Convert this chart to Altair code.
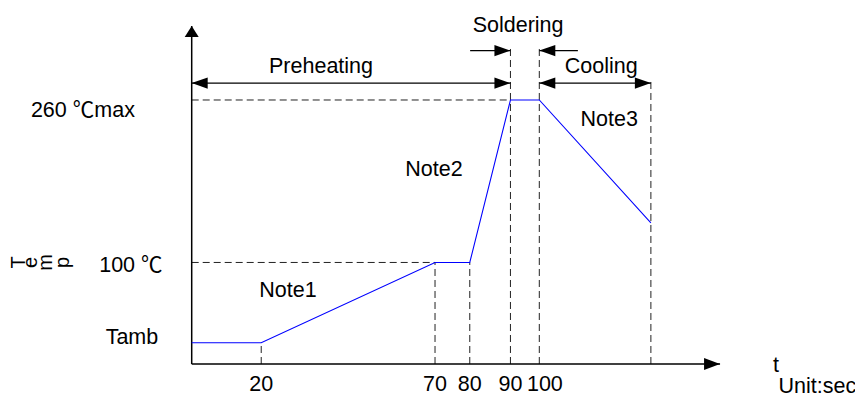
import altair as alt
import pandas as pd

# ---------------- values (seconds, °C) ----------------
# temperature profile (blue line)
profile_t = [0, 20, 70, 80, 91.7, 100, 132.1]
profile_temp = [21, 21, 100, 100, 260, 260, 139]

# time axis labels and where they sit
tick_labels = ["20", "70", "80", "90", "100"]
tick_label_t = [20, 70, 80, 91.7, 101.6]

# dashed guide lines (t -> t2, temp -> temp2)
dash_t = [20, 70, 80, 91.7, 100, 132.1, 0, 0]
dash_t2 = [20, 70, 80, 91.7, 100, 132.1, 91.7, 70]
dash_temp = [0, 0, 0, 0, 0, 0, 260, 100]
dash_temp2 = [21, 100, 100, 314, 312, 281, 260, 100]

# axes (t -> t2, temp -> temp2)
axis_t = [0, 0]
axis_t2 = [152, 0]
axis_temp = [0, 0]
axis_temp2 = [0, 332.9]

# phase arrows (Preheating, Cooling, Soldering in / out)
arrow_t = [0, 100, 80.1, 100]
arrow_t2 = [91.7, 132.1, 91.7, 111.1]
arrow_temp = [276.7, 276.7, 308.7, 308.7]

# arrow heads: position and pointing direction (degrees clockwise)
head_t = [152, 0, 0, 91.7, 100, 132.1, 91.7, 100]
head_temp = [0, 332.9, 276.7, 276.7, 276.7, 276.7, 308.7, 308.7]
head_dir = [0, 270, 180, 0, 180, 0, 0, 180]
head_kind = ["xaxis", "yaxis", "arrow", "arrow", "arrow", "arrow", "arrow", "arrow"]

# annotation texts
ann_labels = ["Preheating", "Soldering", "Cooling", "Note1", "Note2", "Note3",
              "260 ℃max", "100 ℃", "Tamb", "t", "Unit:sec"]
ann_t = [37.2, 93.9, 117.8, 27.7, 69.7, 120.1, -31.3, -17.5, -17.2, 168.1, 180.0]
ann_temp = [286.6, 326.5, 286.6, 66.0, 185.1, 234.4, 243.3, 90.6, 19.7, -7.9, -29.0]
tick_label_temp = -26.6

# vertical axis title, drawn glyph by glyph
title_chars = ["T", "e", "m", "p"]
title_t = [-49.8, -46.1, -41.8, -36.9]
title_temp = 100.0

# ---------------- tables ----------------
profile = pd.DataFrame({"t": profile_t, "temp": profile_temp})
dashes = pd.DataFrame({"t": dash_t, "t2": dash_t2, "temp": dash_temp, "temp2": dash_temp2})
axes = pd.DataFrame({"t": axis_t, "t2": axis_t2, "temp": axis_temp, "temp2": axis_temp2})
arrows = pd.DataFrame({"t": arrow_t, "t2": arrow_t2, "temp": arrow_temp})
shapes = {
    "xaxis": "M0,0L-2,-0.75L-2,0.75Z",
    "yaxis": "M0,0L-1.375,-0.875L-1.375,0.875Z",
    "arrow": "M0,0L-2,-0.7L-2,0.7Z",
}
heads = pd.DataFrame({"t": head_t, "temp": head_temp, "dir": head_dir,
                      "shape": [shapes[k] for k in head_kind]})
texts = pd.DataFrame({"t": ann_t + tick_label_t,
                      "temp": ann_temp + [tick_label_temp] * len(tick_label_t),
                      "label": ann_labels + tick_labels})
title = pd.DataFrame({"t": title_t, "temp": [title_temp] * len(title_t), "label": title_chars})

# ---------------- scales ----------------
xs = alt.Scale(domain=[-52.848, 190.823], nice=False, zero=False)
ys = alt.Scale(domain=[-34.47, 350.6], nice=False, zero=False)
X = lambda f="t": alt.X(f"{f}:Q", scale=xs, axis=None)
Y = lambda f="temp": alt.Y(f"{f}:Q", scale=ys, axis=None)

FONT = "Liberation Sans, Arial, Noto Sans CJK SC, sans-serif"

dash_layer = alt.Chart(dashes).mark_rule(color="#222222", strokeWidth=1, strokeDash=[7, 4]).encode(
    x=X(), x2="t2:Q", y=Y(), y2="temp2:Q")
axis_layer = alt.Chart(axes).mark_rule(color="black", strokeWidth=1.5).encode(
    x=X(), x2="t2:Q", y=Y(), y2="temp2:Q")
arrow_layer = alt.Chart(arrows).mark_rule(color="black", strokeWidth=1.2).encode(
    x=X(), x2="t2:Q", y=Y())
head_layer = alt.Chart(heads).mark_point(filled=True, size=256, opacity=1, color="black", strokeWidth=0).encode(
    x=X(), y=Y(), shape=alt.Shape("shape:N", scale=None), angle=alt.Angle("dir:Q", scale=None))
profile_layer = alt.Chart(profile).mark_line(color="#0000ff", strokeWidth=1.1).encode(
    x=X(), y=Y(), order="t:Q")
text_layer = alt.Chart(texts).mark_text(font=FONT, fontSize=21.5, color="black", align="center",
                                        baseline="alphabetic").encode(
    x=X(), y=Y(), text="label:N")
title_layer = alt.Chart(title).mark_text(font=FONT, fontSize=20, color="black", align="center",
                                         baseline="middle", angle=270).encode(
    x=X(), y=Y(), text="label:N")

chart = alt.layer(dash_layer, axis_layer, arrow_layer, profile_layer, head_layer,
                  text_layer, title_layer).properties(
    width=847, height=391, padding=0, autosize="none"
).configure_view(stroke=None)

chart.save("out.html", embed_options={"renderer": "svg", "actions": False})
